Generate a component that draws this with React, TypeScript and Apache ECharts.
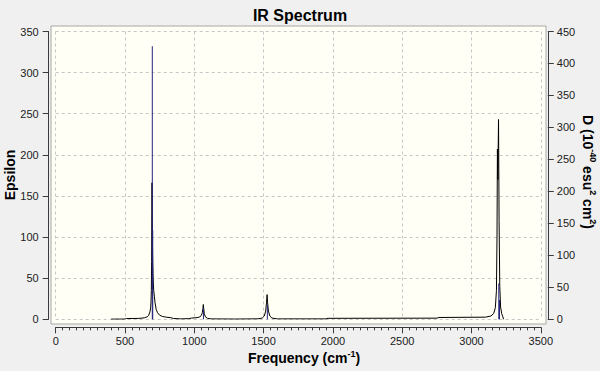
import React, { useEffect, useRef } from "react";
import * as echarts from "echarts";

// Black curve: epsilon (left axis) vs frequency
const curveFreq = [
  400, 500, 510, 600, 640, 660, 670, 680, 685, 688, 690, 692, 694, 695, 696, 698, 700, 703, 707, 712,
  717, 725, 735, 750, 770, 800, 830, 850, 900, 960, 980, 1020, 1040, 1050, 1058, 1062, 1065, 1068,
  1072, 1080, 1095, 1120, 1300, 1460, 1490, 1505, 1515, 1521, 1525, 1529, 1535, 1545, 1560, 1600,
  1950, 1965, 2750, 2765, 3100, 3140, 3160, 3172, 3180, 3184, 3187, 3190, 3195, 3199, 3204, 3210,
  3218, 3226, 3232,
];
const curveEps = [
  0.2, 0.3, 0.9, 1.1, 1.8, 3, 4.5, 9, 14, 22, 35, 70, 130, 166, 140, 95, 70, 50, 35, 28,
  20, 12, 8, 5, 3.5, 2.5, 2, 1, 0.5, 0.8, 1.5, 2, 3, 4.5, 8, 13, 18, 13,
  7, 3, 1.2, 0.5, 0.3, 0.6, 1.5, 4, 10, 20, 30, 20, 10, 4, 1.5, 0.5,
  0.5, 1.2, 1.4, 2.2, 2.6, 4, 7, 14, 35, 100, 207, 170, 243, 120, 40, 15,
  7, 3, 0,
];

// Blue sticks: D (right axis) vs frequency
const stickFreq = [697, 700, 1066, 1527, 3197, 3202];
const stickD = [427, 139, 17, 22, 56, 30];

// Axis ranges
const xMin = 0, xMax = 3500, xStep = 500;
const epsMin = 0, epsMax = 350, epsStep = 50;
const dMin = 0, dMax = 450, dStep = 50;

const FONT = "'Liberation Sans', Arial, sans-serif";

export default function App() {
  const ref = useRef<HTMLDivElement>(null);

  useEffect(() => {
    document.body.style.margin = "0";
    document.body.style.background = "#f0f0f0";
    if (!ref.current) return;
    const chart = echarts.init(ref.current, undefined, { renderer: "svg" });

    const curveData = curveFreq.map((f, i) => [f, curveEps[i]]);
    const stickData = stickFreq.map((f, i) => [f, stickD[i]]);

    const axisColor = "#3a3a3a";
    const labelStyle = {
      fontSize: 11,
      color: "#202020",
      fontFamily: FONT,
      formatter: (v: number) => String(v),
    };
    const gridLine = { show: true, lineStyle: { color: "#c6c6c6", type: [3, 3] as any, width: 1 } };

    const option: any = {
      animation: false,
      backgroundColor: "#f0f0f0",
      title: {
        text: "IR Spectrum",
        left: "center",
        top: 2,
        textStyle: { fontSize: 16, fontWeight: "bold", color: "#000", fontFamily: FONT },
      },
      grid: { left: 55.7, right: 59.2, top: 31.5, bottom: 51.7, containLabel: false },
      xAxis: {
        type: "value",
        min: xMin,
        max: xMax,
        interval: xStep,
        offset: 8,
        axisLine: { show: true, onZero: false, lineStyle: { color: axisColor, width: 1 } },
        axisTick: { show: true, length: 6, lineStyle: { color: axisColor } },
        minorTick: { show: true, splitNumber: 10, length: 3, lineStyle: { color: axisColor } },
        minorSplitLine: { show: false },
        axisLabel: { ...labelStyle, margin: 8 },
        splitLine: gridLine,
      },
      yAxis: [
        {
          type: "value",
          position: "left",
          min: epsMin,
          max: epsMax,
          interval: epsStep,
          offset: 7,
          axisLine: { show: true, onZero: false, lineStyle: { color: axisColor, width: 1 } },
          axisTick: { show: true, length: 6, lineStyle: { color: axisColor } },
          axisLabel: { ...labelStyle, margin: 10 },
          splitLine: gridLine,
        },
        {
          type: "value",
          position: "right",
          min: dMin,
          max: dMax,
          interval: dStep,
          offset: 7,
          axisLine: { show: true, onZero: false, lineStyle: { color: axisColor, width: 1 } },
          axisTick: { show: true, length: 6, lineStyle: { color: axisColor } },
          axisLabel: { ...labelStyle, margin: 9 },
          splitLine: { show: false },
        },
      ],
      series: [
        {
          type: "line",
          yAxisIndex: 0,
          data: curveData,
          showSymbol: false,
          symbol: "none",
          lineStyle: { color: "#000000", width: 1 },
          z: 3,
        },
        {
          type: "custom",
          yAxisIndex: 1,
          data: stickData,
          z: 4,
          renderItem: (params: any, api: any) => {
            const f = api.value(0);
            const p0 = api.coord([f, 0]);
            const p1 = api.coord([f, api.value(1)]);
            return {
              type: "line",
              shape: { x1: p0[0], y1: p0[1], x2: p1[0], y2: p1[1] },
              style: { stroke: "#23237f", lineWidth: 1 },
            };
          },
        },
      ],
      graphic: [
        {
          type: "rect",
          z: -10,
          shape: { x: 51, y: 26, width: 495, height: 298 },
          style: { fill: "#fffff5", stroke: "#a8a8a8", lineWidth: 1 },
        },
        {
          type: "text",
          x: 10,
          y: 175,
          rotation: Math.PI / 2,
          style: {
            text: "Epsilon",
            font: `bold 14px ${FONT}`,
            fill: "#000",
            textAlign: "center",
            textVerticalAlign: "middle",
            align: "center",
            verticalAlign: "middle",
          },
        },
        {
          type: "text",
          x: 304,
          y: 358,
          style: {
            text: "{b|Frequency (cm}{s|-1}{b|)}",
            fill: "#000",
            textAlign: "center",
            textVerticalAlign: "middle",
            align: "center",
            verticalAlign: "middle",
            rich: {
              b: { fontSize: 14, fontWeight: "bold", fontFamily: FONT, lineHeight: 18, fill: "#000" },
              s: { fontSize: 9, fontWeight: "bold", fontFamily: FONT, lineHeight: 10, verticalAlign: "top", fill: "#000" },
            },
          },
        },
        {
          type: "text",
          x: 588,
          y: 172,
          rotation: -Math.PI / 2,
          style: {
            text: "{b|D (10}{s|-40}{b| esu}{s|2}{b| cm}{s|2}{b|)}",
            fill: "#000",
            textAlign: "center",
            textVerticalAlign: "middle",
            align: "center",
            verticalAlign: "middle",
            rich: {
              b: { fontSize: 14, fontWeight: "bold", fontFamily: FONT, lineHeight: 18, fill: "#000" },
              s: { fontSize: 9, fontWeight: "bold", fontFamily: FONT, lineHeight: 10, verticalAlign: "top", fill: "#000" },
            },
          },
        },
      ],
    };

    chart.setOption(option);
    return () => chart.dispose();
  }, []);

  return <div ref={ref} style={{ width: 600, height: 371 }} />;
}
